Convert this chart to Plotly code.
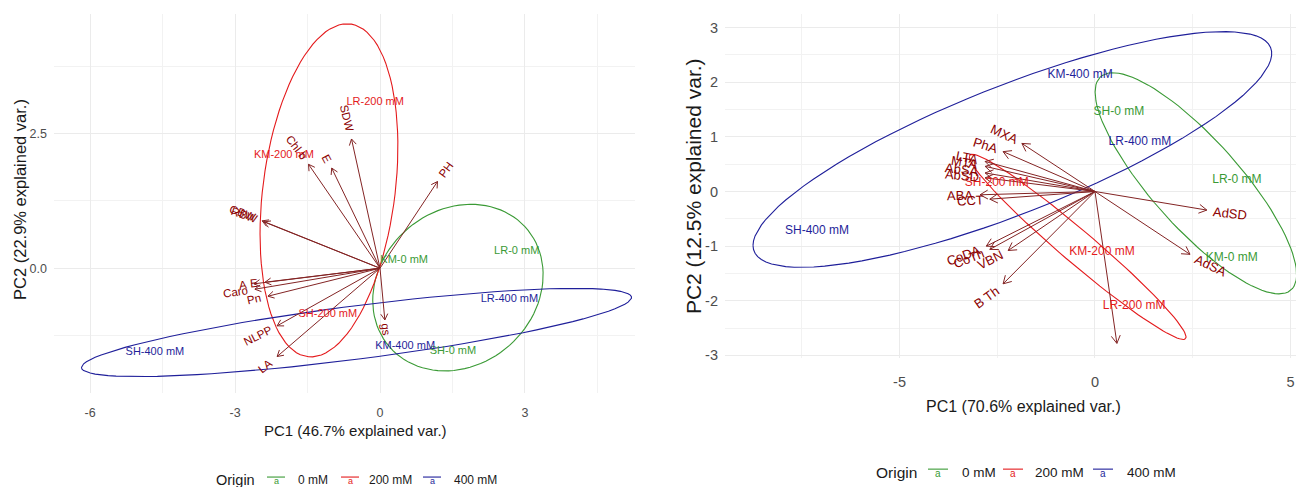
import math
import numpy as np
import plotly.graph_objects as go

W, H = 1296, 487

# ---------------- data ----------------
GROUPS = ["0 mM", "200 mM", "400 mM"]
GROUP_COLORS = ["#3a9a35", "#e41a1c", "#1f1f9a"]

# left biplot: observations (scores)
L_OBS = ["KM-0 mM", "LR-0 mM", "SH-0 mM",
         "KM-200 mM", "LR-200 mM", "SH-200 mM",
         "KM-400 mM", "LR-400 mM", "SH-400 mM"]
L_GRP = ["0 mM", "0 mM", "0 mM", "200 mM", "200 mM", "200 mM", "400 mM", "400 mM", "400 mM"]
L_PC1 = [0.50, 2.83, 1.51, -1.99, -0.10, -1.08, 0.52, 2.68, -4.66]
L_PC2 = [0.15, 0.31, -1.54, 2.10, 3.09, -0.85, -1.45, -0.57, -1.56]

# left biplot: variables (loadings)
L_VAR = ["SDW", "E", "Chl b", "PH", "CBW", "RBW", "A", "E", "Caro", "Pn", "NLPP", "LA", "gs"]
L_VX = [-0.59, -1.00, -1.48, 1.19, -2.44, -2.40, -2.61, -2.38, -2.59, -2.32, -2.13, -2.13, 0.10]
L_VY = [2.40, 1.86, 1.93, 1.61, 0.88, 0.86, -0.29, -0.26, -0.39, -0.52, -1.07, -1.64, -0.96]

# right biplot: observations
R_OBS = ["KM-0 mM", "LR-0 mM", "SH-0 mM",
         "KM-200 mM", "LR-200 mM", "SH-200 mM",
         "KM-400 mM", "LR-400 mM", "SH-400 mM"]
R_GRP = ["0 mM", "0 mM", "0 mM", "200 mM", "200 mM", "200 mM", "400 mM", "400 mM", "400 mM"]
R_PC1 = [3.50, 3.63, 0.61, 0.18, 1.00, -2.51, -0.38, 1.15, -7.11]
R_PC2 = [-1.22, 0.21, 1.46, -1.10, -2.09, 0.15, 2.13, 0.90, -0.72]

# right biplot: variables
R_VAR = ["AdSD", "AdSA", "Th", "B Th", "VBN", "CoTh", "CoDA", "MXA", "PhA",
         "LTA", "MTA", "AbSA", "AbSD", "ABA", "CCT"]
R_VX = [2.86, 2.43, 0.56, -2.35, -2.22, -2.69, -2.78, -1.87, -2.35,
        -2.81, -2.81, -2.81, -2.81, -2.94, -2.69]
R_VY = [-0.34, -1.15, -2.78, -1.69, -1.08, -1.06, -1.00, 0.88, 0.73,
        0.55, 0.46, 0.34, 0.25, -0.06, -0.14]

# tick labels
L_XTICKS = [-6, -3, 0, 3]
L_XTEXT = ["-6", "-3", "0", "3"]
L_YTICKS = [0, 2.5]
L_YTEXT = ["0.0", "2.5"]
R_XTICKS = [-5, 0, 5]
R_XTEXT = ["-5", "0", "5"]
R_YTICKS = [-3, -2, -1, 0, 1, 2, 3]
R_YTEXT = ["-3", "-2", "-1", "0", "1", "2", "3"]

L_XTITLE = "PC1 (46.7% explained var.)"
L_YTITLE = "PC2 (22.9% explained var.)"
R_XTITLE = "PC1 (70.6% explained var.)"
R_YTITLE = "PC2 (12.5% explained var.)"

# ---------------- layout geometry ----------------
FONT = "Liberation Sans, Arial, sans-serif"
PANELS = {
    "L": dict(xr=[-6.749, 5.279], yr=[-2.316, 4.724], xpx=[54, 635], ypx=[14, 397],
              xa="x", ya="y", head=7, vfont=11.5, gfont=11),
    "R": dict(xr=[-9.463, 5.141], yr=[-3.053, 3.252], xpx=[725, 1296], ypx=[14, 362],
              xa="x2", ya="y2", head=9, vfont=13, gfont=12),
}
for p in PANELS.values():
    p["kx"] = (p["xpx"][1] - p["xpx"][0]) / (p["xr"][1] - p["xr"][0])
    p["ky"] = (p["ypx"][1] - p["ypx"][0]) / (p["yr"][1] - p["yr"][0])

W_EM = {'A': .667, 'B': .667, 'C': .722, 'D': .722, 'E': .667, 'F': .611, 'H': .722,
        'K': .667, 'L': .556, 'M': .833, 'N': .722, 'P': .667, 'R': .722, 'S': .667,
        'T': .611, 'V': .667, 'W': .944, 'X': .667, 'a': .556, 'b': .556, 'd': .556,
        'g': .556, 'h': .556, 'i': .222, 'l': .222, 'n': .556, 'o': .556, 'r': .333,
        's': .5, ' ': .278, '-': .333}


def text_len(s, fs):
    return fs * sum(W_EM.get(c, .556) for c in s)


fig = go.Figure()
annotations = []
shapes = []


def ellipse(xs, ys, prob=0.68, n=100):
    th = np.linspace(-np.pi, np.pi, n)
    circle = np.column_stack([np.cos(th), np.sin(th)])
    ed = math.sqrt(-2 * math.log(1 - prob))
    sigma = np.cov(np.array(xs), np.array(ys))
    R = np.linalg.cholesky(sigma).T
    pts = ed * circle @ R + np.array([np.mean(xs), np.mean(ys)])
    return pts[:, 0], pts[:, 1]


def add_panel(key, obs, grp, pc1, pc2, var, vx, vy):
    p = PANELS[key]
    xa, ya = p["xa"], p["ya"]
    # ellipses
    for g, col in zip(GROUPS, GROUP_COLORS):
        xs = [a for a, gg in zip(pc1, grp) if gg == g]
        ys = [b for b, gg in zip(pc2, grp) if gg == g]
        ex, ey = ellipse(xs, ys)
        fig.add_trace(go.Scatter(x=ex, y=ey, mode="lines", xaxis=xa, yaxis=ya,
                                 line=dict(color=col, width=1.1), hoverinfo="skip",
                                 showlegend=False))
    # arrows
    sx, sy = [], []
    h = p["head"]
    for x, y in zip(vx, vy):
        px, py = x * p["kx"], y * p["ky"]
        ln = math.hypot(px, py)
        ux, uy = px / ln, py / ln
        heads = []
        for sg in (1, -1):
            a = math.radians(30 * sg)
            rx = ux * math.cos(a) - uy * math.sin(a)
            ry = ux * math.sin(a) + uy * math.cos(a)
            heads.append((x - h * rx / p["kx"], y - h * ry / p["ky"]))
        sx += [0, x, None, heads[0][0], x, heads[1][0], None]
        sy += [0, y, None, heads[0][1], y, heads[1][1], None]
    fig.add_trace(go.Scatter(x=sx, y=sy, mode="lines", xaxis=xa, yaxis=ya,
                             line=dict(color="#832424", width=1), hoverinfo="skip",
                             showlegend=False))
    # variable labels (ggbiplot style: rotated along arrow, pushed outward)
    adj = 1.06
    for name, x, y in zip(var, vx, vy):
        th = math.degrees(math.atan(y / x))
        ax_, ay_ = adj * x, adj * y
        L = text_len(name, p["vfont"])
        s = 1 if x > 0 else -1
        dx = s * (L / 2) * math.cos(math.radians(th))
        dy = s * (L / 2) * math.sin(math.radians(th))
        cy = ay_ + dy / p["ky"]
        if cy < p["yr"][0] or cy > p["yr"][1]:
            continue
        annotations.append(dict(x=ax_, y=ay_, xref=xa, yref=ya, text=name, showarrow=False,
                                textangle=-th, xshift=dx, yshift=dy,
                                font=dict(family=FONT, size=p["vfont"], color="#8B0000")))
    # observation labels
    for g, col in zip(GROUPS, GROUP_COLORS):
        idx = [i for i, gg in enumerate(grp) if gg == g]
        fig.add_trace(go.Scatter(x=[pc1[i] for i in idx], y=[pc2[i] for i in idx],
                                 text=[obs[i] for i in idx], mode="text",
                                 textposition="middle center", xaxis=xa, yaxis=ya,
                                 textfont=dict(family=FONT, size=p["gfont"], color=col),
                                 cliponaxis=False, hoverinfo="skip", showlegend=False))


add_panel("L", L_OBS, L_GRP, L_PC1, L_PC2, L_VAR, L_VX, L_VY)
add_panel("R", R_OBS, R_GRP, R_PC1, R_PC2, R_VAR, R_VX, R_VY)


def axis(p, which, tickvals, ticktext, minor, fs, standoff):
    if which == "x":
        dom = [p["xpx"][0] / W, p["xpx"][1] / W]
        rng = p["xr"]
    else:
        dom = [1 - p["ypx"][1] / H, 1 - p["ypx"][0] / H]
        rng = p["yr"]
    return dict(domain=dom, range=rng, tickmode="array", tickvals=tickvals, ticktext=ticktext,
                showgrid=True, gridcolor="#ebebeb", gridwidth=1, zeroline=False,
                showline=False, ticks="", ticklabelstandoff=standoff,
                tickfont=dict(family=FONT, size=fs, color="#4d4d4d"),
                minor=dict(tickvals=minor, showgrid=True, gridcolor="#f2f2f2", gridwidth=1),
                fixedrange=True)


PL, PR = PANELS["L"], PANELS["R"]
xaxis = axis(PL, "x", L_XTICKS, L_XTEXT, [-4.5, -1.5, 1.5, 4.5], 12.5, 11)
xaxis.update(anchor="y")
yaxis = axis(PL, "y", L_YTICKS, L_YTEXT, [-1.25, 1.25, 3.75], 12.5, 6)
yaxis.update(anchor="x")
xaxis2 = axis(PR, "x", R_XTICKS, R_XTEXT, [-7.5, -2.5, 2.5], 14.5, 13)
xaxis2.update(anchor="y2")
yaxis2 = axis(PR, "y", R_YTICKS, R_YTEXT, [-2.5, -1.5, -0.5, 0.5, 1.5, 2.5], 14.5, 6)
yaxis2.update(anchor="x2")


def pap(px, py):
    return px / W, 1 - py / H


def txt(px, py, text, size, color="#1a1a1a", angle=0, xanchor="center"):
    x, y = pap(px, py)
    annotations.append(dict(x=x, y=y, xref="paper", yref="paper", text=text, showarrow=False,
                            textangle=angle, xanchor=xanchor, yanchor="middle",
                            font=dict(family=FONT, size=size, color=color)))


# axis titles
txt(355, 435, L_XTITLE, 15)
txt(20, 202, L_YTITLE, 16.5, angle=-90)
txt(1023, 411, R_XTITLE, 16)
txt(693, 188, R_YTITLE, 21, angle=-90)


# legends (ggplot style, drawn manually)
def legend(title_x, y, title_fs, key_cx, key_w, lab_x, lab_fs, a_fs):
    txt(title_x, y, "Origin", title_fs)
    for g, col, cx, lx in zip(GROUPS, GROUP_COLORS, key_cx, lab_x):
        x0, yy = pap(cx - key_w / 2, y - 3)
        x1, _ = pap(cx + key_w / 2, y - 3)
        shapes.append(dict(type="line", xref="paper", yref="paper", x0=x0, x1=x1, y0=yy, y1=yy,
                           line=dict(color=col, width=1.1)))
        txt(cx, y + 1, "a", a_fs, color=col)
        txt(lx, y, g, lab_fs, xanchor="left")


legend(235.5, 485, 14.5, [276, 350, 432], 18, [296, 367, 452], 12, 9)
legend(896, 477, 15.5, [938, 1013, 1103], 20, [960, 1033, 1125], 13.5, 10)

fig.update_layout(width=W, height=H, margin=dict(l=0, r=0, t=0, b=0),
                  paper_bgcolor="white", plot_bgcolor="white",
                  font=dict(family=FONT), showlegend=False,
                  xaxis=xaxis, yaxis=yaxis, xaxis2=xaxis2, yaxis2=yaxis2,
                  annotations=annotations, shapes=shapes)

fig.write_html("out.html", config={"displayModeBar": False},
               post_script="document.body.style.margin='0';document.body.style.overflow='hidden';")
